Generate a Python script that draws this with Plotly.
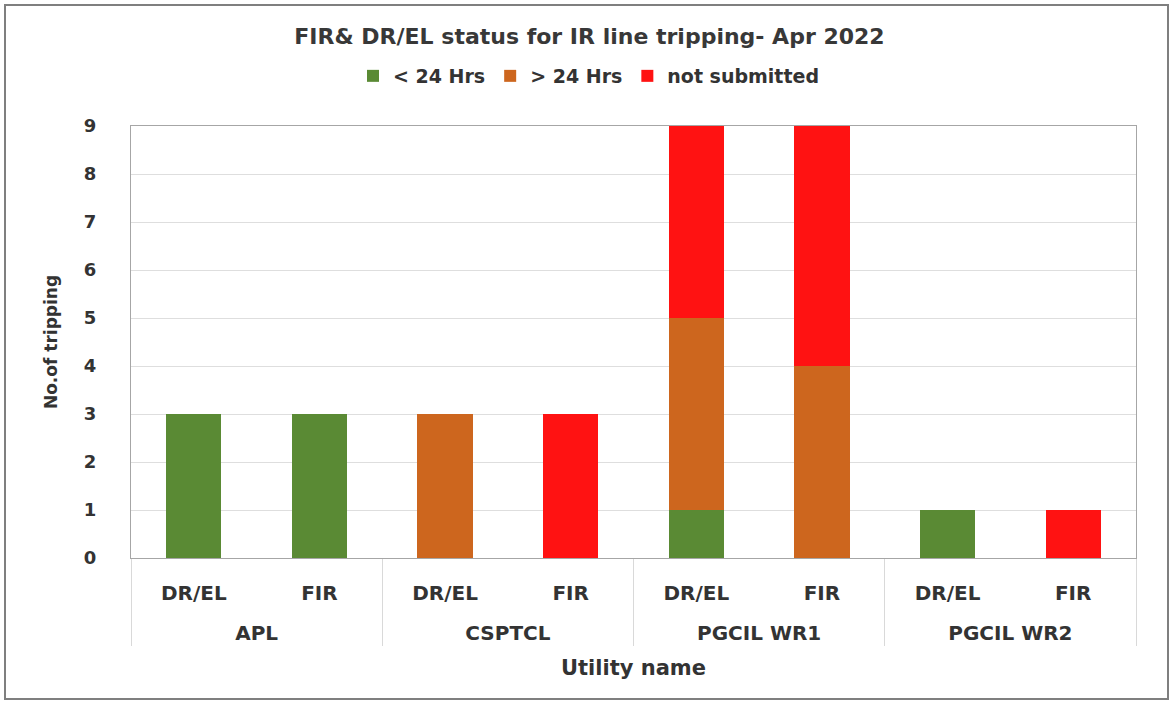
import plotly.graph_objects as go

groups = ["APL", "APL", "CSPTCL", "CSPTCL", "PGCIL WR1", "PGCIL WR1", "PGCIL WR2", "PGCIL WR2"]
subs = ["DR/EL", "FIR", "DR/EL", "FIR", "DR/EL", "FIR", "DR/EL", "FIR"]
lt24 = [3, 3, 0, 0, 1, 0, 1, 0]
gt24 = [0, 0, 3, 0, 4, 4, 0, 0]
notsub = [0, 0, 0, 3, 4, 5, 0, 1]
series_names = ["< 24 Hrs", "> 24 Hrs", "not submitted"]
colors = ["#5a8a34", "#cd661e", "#ff1212"]
yticks = list(range(0, 10))

FONT = "'DejaVu Sans', Verdana, sans-serif"
TXT = "#333333"

fig = go.Figure()
for name, vals, col in zip(series_names, [lt24, gt24, notsub], colors):
    fig.add_trace(go.Bar(
        x=[groups, subs], y=vals, name="<b>" + name + "</b>",
        marker=dict(color=col, line=dict(width=0)),
    ))

W, H = 1173, 704
L, R, T, B = 131, 1136, 126, 558

def px(x):
    return (x - L) / (R - L)

def py(y):
    return (B - y) / (B - T)

# invisible first line above each sub-category label -> spaces the group row like the reference
spacer = "<span style='color:#ffffff;font-size:26px'>.</span><br>"
alias = {s: spacer + s for s in sorted(set(subs))}

fig.update_layout(
    width=W, height=H,
    barmode="stack", bargap=0.56,
    plot_bgcolor="white", paper_bgcolor="white",
    margin=dict(l=L, r=W - R, t=T, b=H - B, autoexpand=False),
    font=dict(family=FONT, color=TXT),
    title=dict(text="<b>FIR& DR/EL status for IR line tripping- Apr 2022</b>",
               font=dict(size=22, color="#383838", family=FONT),
               x=(290 + 889) / 2 / W, xanchor="center", xref="container",
               y=1 - 36 / H, yanchor="middle", yref="container"),
    legend=dict(orientation="h", x=px(589), xanchor="center", y=py(76), yanchor="middle",
                font=dict(size=19, color=TXT, family=FONT), traceorder="normal",
                itemwidth=30, bgcolor="rgba(0,0,0,0)"),
    showlegend=True,
)

fig.update_xaxes(
    type="multicategory",
    showline=True, linecolor="#a6a6a6", linewidth=1, mirror=True,
    showdividers=True, dividercolor="#d9d9d9", dividerwidth=1,
    ticklabelstandoff=-9,
    labelalias=alias,
    tickfont=dict(size=20, color=TXT, family=FONT, weight="bold"),
    title=dict(text="<b>Utility name</b>", font=dict(size=21, color=TXT, family=FONT), standoff=16),
    automargin=False, showgrid=False,
)
fig.update_yaxes(
    range=[0, 9], tickvals=yticks,
    showline=True, linecolor="#a6a6a6", linewidth=1, mirror=True,
    showgrid=True, gridcolor="#dedede", gridwidth=1,
    ticks="outside", ticklen=30, tickcolor="rgba(0,0,0,0)",
    tickfont=dict(size=18, color=TXT, family=FONT, weight="bold"),
    title=dict(text="<b>No.of tripping</b>", font=dict(size=17, color=TXT, family=FONT), standoff=21),
    automargin=False, zeroline=False,
)

fig.add_shape(type="rect", xref="paper", yref="paper",
              x0=px(5), x1=px(1168), y0=py(699), y1=py(5),
              line=dict(color="#7f7f7f", width=2), fillcolor="rgba(0,0,0,0)", layer="above")

fig.write_html("out.html", config={"displayModeBar": False},
               post_script="document.body.style.margin='0px';document.body.style.overflow='hidden';")
